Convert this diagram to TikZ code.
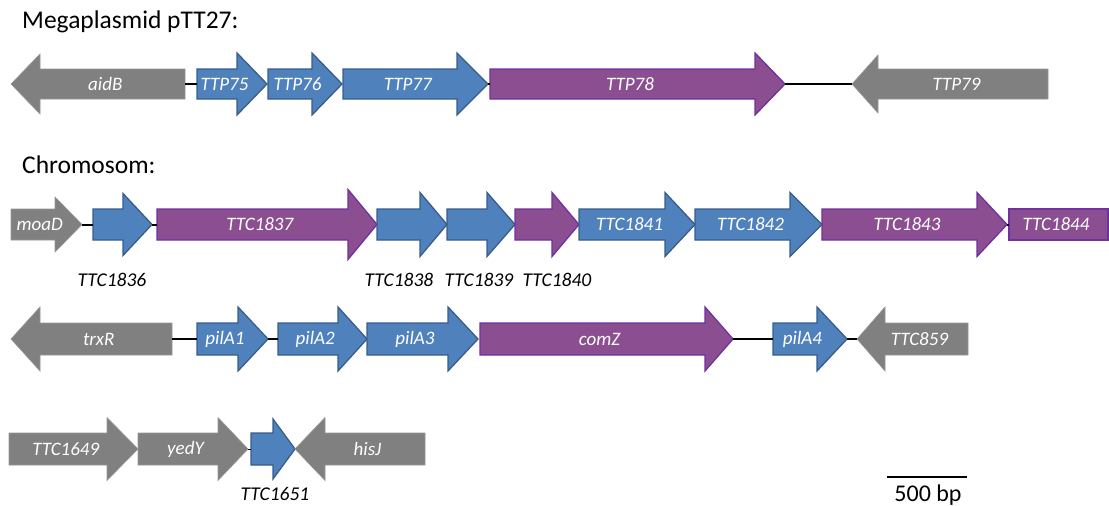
\documentclass[tikz,border=0pt]{standalone}
\usepackage{fontspec}
\setmainfont{Carlito}
\definecolor{ggray}{RGB}{128,128,128}
\definecolor{ggrayline}{RGB}{150,150,150}
\definecolor{gblue}{RGB}{79,129,189}
\definecolor{gblueline}{RGB}{56,93,138}
\definecolor{gpurple}{RGB}{139,79,145}
\definecolor{gpurpleline}{RGB}{112,48,160}
\tikzset{
  grayg/.style={fill=ggray,draw=ggrayline,line width=0.6pt},
  blueg/.style={fill=gblue,draw=gblueline,line width=1.3pt,line join=miter},
  purpleg/.style={fill=gpurple,draw=gpurpleline,line width=1.3pt,line join=miter},
  gnode/.style={inner sep=0pt,outer sep=0pt,minimum height=30pt,draw=none},
  glabel/.style={text=white,font=\fontsize{19}{21}\selectfont\itshape,inner sep=0pt},
  blabel/.style={text=black,font=\fontsize{19.5}{21}\selectfont\itshape,inner sep=0pt},
  title/.style={font=\fontsize{25.5}{28}\selectfont,anchor=base west,inner sep=0pt},
  link/.style={line width=2pt,black},
}
% #1 style, #2 name, #3 x start, #4 x head base, #5 x tip, #6 y centre, #7 body half height, #8 head half height, #9 label
\newcommand\gene[9]{%
  \draw[#1] (#3,#6-#7) -- (#4,#6-#7) -- (#4,#6-#8) -- (#5,#6) -- (#4,#6+#8) -- (#4,#6+#7) -- (#3,#6+#7) -- cycle;
  \pgfmathsetmacro\gw{abs(#5-#3)}%
  \node[gnode,minimum width=\gw pt] (#2) at ({(#3+#5)/2},#6) {};
  \node[glabel] (#2-lab) at ({(#3+(#4+#5)/2)/2},#6) {#9};
}
\begin{document}
\begin{tikzpicture}[x=1pt,y=-1pt]
\useasboundingbox (0,0) rectangle (1109,506);

\node[title] (t1) at (22,28) {Megaplasmid pTT27:};
\node[title] (t2) at (22,173) {Chromosom:};

% Row 1
\gene{grayg}{aidB}{185}{40}{11}{84}{15}{30}{aidB}
\gene{blueg}{TTP75}{197}{237}{267}{84}{15}{31}{TTP75}
\gene{blueg}{TTP76}{268}{312}{342}{84}{15}{31}{TTP76}
\gene{blueg}{TTP77}{343}{457}{488}{84}{15}{31}{TTP77}
\gene{purpleg}{TTP78}{490}{755}{785}{84}{15}{31}{TTP78}
\gene{grayg}{TTP79}{1048}{878}{852}{84}{15}{29}{TTP79}
\draw[link] (aidB.east) -- (TTP75.west);
\draw[link] (TTP77.east) -- (TTP78.west);
\draw[link] (TTP78.east) -- (TTP79.west);

% Row 2
\gene{grayg}{moaD}{11}{55}{82}{224.5}{15.5}{27.5}{moaD}
\gene{blueg}{TTC1836}{93}{123}{152}{224.5}{15.5}{31}{}
\gene{purpleg}{TTC1837}{157}{348}{377}{224.5}{15.5}{35}{TTC1837}
\gene{blueg}{TTC1838}{377}{420}{447}{224.5}{15.5}{32}{}
\gene{blueg}{TTC1839}{447}{487}{515}{224.5}{15.5}{32}{}
\gene{purpleg}{TTC1840}{515}{552}{579}{224.5}{15.5}{32}{}
\gene{blueg}{TTC1841}{579}{665}{695}{224.5}{15.5}{32}{TTC1841}
\gene{blueg}{TTC1842}{695}{790}{822}{224.5}{15.5}{32}{TTC1842}
\gene{purpleg}{TTC1843}{822}{977}{1007}{224.5}{15.5}{32}{TTC1843}
\draw[purpleg] (1009,209) rectangle (1108,240);
\node[gnode,minimum width=99pt] (TTC1844) at (1058.5,224.5) {};
\node[glabel] (TTC1844-lab) at (1056,224.5) {TTC1844};
\draw[link] (moaD.east) -- (TTC1836.west);
\draw[link] (TTC1836.east) -- (TTC1837.west);
\draw[link] (TTC1843.east) -- (TTC1844.west);
\node[blabel] (l1836) at (112,280) {TTC1836};
\node[blabel] (l1838) at (399,280) {TTC1838};
\node[blabel] (l1839) at (479,280) {TTC1839};
\node[blabel] (l1840) at (557,280) {TTC1840};

% Row 3
\gene{grayg}{trxR}{172}{40}{11}{339}{16}{32}{trxR}
\gene{blueg}{pilA1}{197}{238}{268}{339}{16}{32}{pilA1}
\gene{blueg}{pilA2}{278}{338}{367}{339}{16}{32}{pilA2}
\gene{blueg}{pilA3}{367}{448}{478}{339}{16}{32}{pilA3}
\gene{purpleg}{comZ}{480}{705}{733}{339}{16}{32}{comZ}
\gene{blueg}{pilA4}{773}{817}{847}{339}{16}{32}{pilA4}
\gene{grayg}{TTC859}{968}{885}{857}{339}{16}{32}{TTC859}
\draw[link] (trxR.east) -- (pilA1.west);
\draw[link] (pilA1.east) -- (pilA2.west);
\draw[link] (comZ.east) -- (pilA4.west);
\draw[link] (pilA4.east) -- (TTC859.west);

% Row 4
\gene{grayg}{TTC1649}{9}{107}{138}{449}{16}{31.5}{TTC1649}
\gene{grayg}{yedY}{138}{218}{248}{449}{16}{31.5}{yedY}
\gene{blueg}{TTC1651}{251}{273}{295}{449}{16}{30}{}
\gene{grayg}{hisJ}{425}{325}{295}{449}{16}{31.5}{hisJ}
\draw[link,line width=1pt] (yedY.east) -- (TTC1651.west);
\node[blabel] (l1651) at (275,494) {TTC1651};

% scale bar
\coordinate (sb1) at (887,477);
\coordinate (sb2) at (967,477);
\draw[link,line width=2.5pt] (sb1) -- (sb2);
\node[font=\fontsize{24}{26}\selectfont,anchor=base,inner sep=0pt] (sbl) at (928,501) {500 bp};
\end{tikzpicture}
\end{document}
